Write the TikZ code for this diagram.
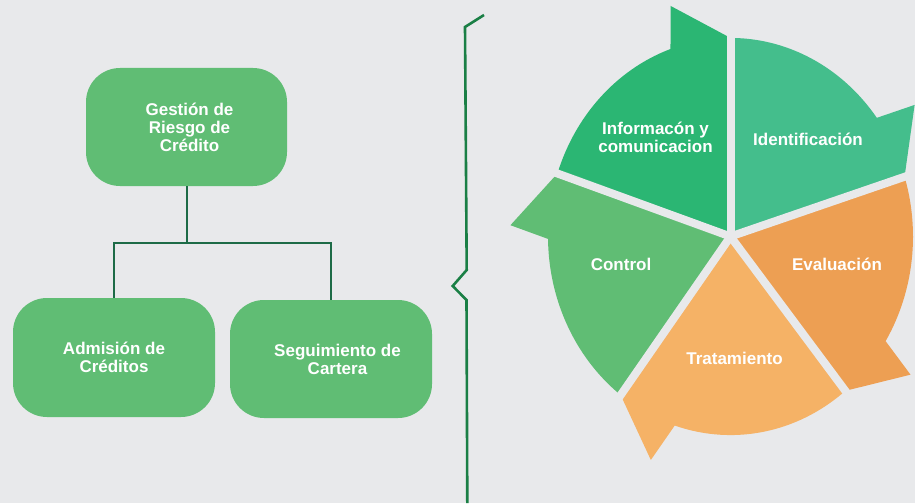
\documentclass[tikz,border=0pt]{standalone}
\usepackage{fontspec}
\setmainfont{Liberation Sans}
\definecolor{bg}{HTML}{E8E9EB}
\definecolor{boxgreen}{HTML}{60BD74}
\definecolor{infocol}{HTML}{2BB673}
\definecolor{identcol}{HTML}{44BE8C}
\definecolor{evalcol}{HTML}{ED9F53}
\definecolor{tratcol}{HTML}{F5B266}
\definecolor{ctrlcol}{HTML}{60BD74}
\definecolor{linkcol}{HTML}{1D6B47}
\definecolor{bracecol}{HTML}{1A7F45}
\tikzset{
  orgbox/.style={fill=boxgreen, rounded corners=34pt, text=white,
    font=\bfseries\fontsize{17}{18}\selectfont, align=center, inner sep=0pt},
  link/.style={draw=linkcol, line width=2pt},
  bracestyle/.style={draw=bracecol, line width=2.6pt, line join=miter},
  seglabel/.style={text=white, font=\bfseries\fontsize{17}{18}\selectfont, align=center, inner sep=0pt},
  gapline/.style={draw=bg, line width=8pt}
}
\begin{document}
\begin{tikzpicture}[x=1pt, y=-1pt]
\useasboundingbox (0,0) rectangle (915,503);
\fill[bg] (0,0) rectangle (915,503);

% organisation chart
\node[orgbox, minimum width=201pt, minimum height=118pt] (g) at (186.5,127) {\hspace*{6pt}Gestión de\\\hspace*{6pt}Riesgo de\\\hspace*{6pt}Crédito};
\node[orgbox, minimum width=202pt, minimum height=119pt] (a) at (114,357.5) {Admisión de\\Créditos};
\node[orgbox, minimum width=202pt, minimum height=118pt] (s) at (331,359) {\hspace*{13pt}Seguimiento de\\\hspace*{13pt}Cartera};
\coordinate (j) at (g.south |- 0,243);
\draw[link] (g.south) -- (j);
\draw[link] (a.north) |- (j) -| (s.north);

% brace
\coordinate (b1) at (484,15);
\coordinate (b2) at (465,27);
\coordinate (b3) at (466.7,270);
\coordinate (b4) at (452.7,286);
\coordinate (b5) at (466.5,300);
\coordinate (b6) at (467.3,503);
\draw[bracestyle] (b1) -- (b2) -- (b3) -- (b4) -- (b5) -- (b6);

% cycle
\begin{scope}[shift={(730.5,236.5)}, yscale=-1.088]
  % Info: s=161.5, e=90
  \fill[infocol] (0,0) -- (90:182.5) -- (105.8:220.3) -- (109.2:182.5)
     -- plot[domain=109.2:161.5, samples=40] (\x:182.5) -- cycle;
  % Ident: s=90, e=17.5
  \fill[identcol] (0,0) -- (17.5:182.5) -- (33.3:220.3) -- (36.7:182.5)
     -- plot[domain=36.7:90, samples=40] (\x:182.5) -- cycle;
  % Eval: s=17.5, e=-51
  \fill[evalcol] (0,0) -- (-51:182.5) -- (-35.2:220.3) -- (-31.8:182.5)
     -- plot[domain=-31.8:17.5, samples=40] (\x:182.5) -- cycle;
  % Trat: s=-51, e=-127
  \fill[tratcol] (0,0) -- (-127:182.5) -- (-111.2:220.3) -- (-107.8:182.5)
     -- plot[domain=-107.8:-51, samples=40] (\x:182.5) -- cycle;
  % Control: s=233, e=161.5
  \fill[ctrlcol] (0,0) -- (161.5:182.5) -- (177.3:220.3) -- (180.7:182.5)
     -- plot[domain=180.7:233, samples=40] (\x:182.5) -- cycle;
  % gaps
  \coordinate (c0) at (0,0);
  \coordinate (g1) at (90:240);
  \coordinate (g2) at (17.5:240);
  \coordinate (g3) at (-51:240);
  \coordinate (g4) at (-127:240);
  \coordinate (g5) at (161.5:240);
  \draw[gapline] (c0) -- (g1);
  \draw[gapline] (c0) -- (g2);
  \draw[gapline] (c0) -- (g3);
  \draw[gapline] (c0) -- (g4);
  \draw[gapline] (c0) -- (g5);
\end{scope}

\node[seglabel] (li) at (655.5,137) {Informacón y\\comunicacion};
\node[seglabel] (ld) at (808,139) {Identificación};
\node[seglabel] (le) at (837,264) {Evaluación};
\node[seglabel] (lt) at (734.5,358) {Tratamiento};
\node[seglabel] (lc) at (621,264) {Control};
\end{tikzpicture}
\end{document}
